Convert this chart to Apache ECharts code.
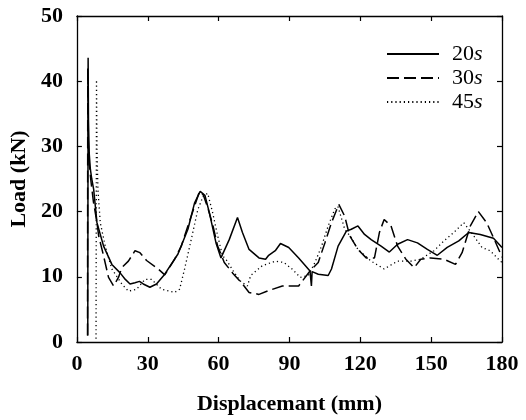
<!DOCTYPE html>
<html>
<head>
<meta charset="utf-8">
<script src="https://cdn.jsdelivr.net/npm/echarts@6/dist/echarts.min.js"></script>
<style>
html,body{margin:0;padding:0;background:#fff;}
#chart{width:526px;height:420px;}
</style>
</head>
<body>
<div id="chart"></div>
<script>
// ---- data (displacement mm, load kN) ----
var seriesNames = ['20s', '30s', '45s'];
var xTicks = [0, 30, 60, 90, 120, 150, 180];
var yTicks = [0, 10, 20, 30, 40, 50];

var disp20 = [4.6,4.75,4.9,5.2,5.7,6.3,7.1,8.5,11.3,14.8,18.3,20.5,22.5,24.6,26.5,28.1,30.9,33.7,37.2,42.8,47,49.8,52.2,54.2,56.1,58.9,61,64.5,68,70.1,72.9,77.1,79.9,81.2,84,86.2,89.7,93.9,98.7,99.3,99.6,100.2,102.2,106.4,107.8,110.6,114.1,116.2,119,121.8,124.6,128.8,132.3,135.8,140,144.2,148.4,152.6,156.8,161.7,165.9,170.8,176.4,180];
var load20 = [1,43.6,34,29,26.5,25,23.4,18.3,14.7,11.9,10.6,9.6,8.9,9.1,9.3,8.9,8.4,8.9,10.4,13.5,17.3,21.3,23.1,22.5,19.8,15.2,12.9,15.7,19.1,16.8,14.2,12.9,12.7,13.3,14.0,15.1,14.5,12.9,10.9,8.6,10.8,10.6,10.4,10.2,11.2,14.7,17.0,17.3,17.8,16.5,15.7,14.7,13.8,15.0,15.7,15.2,14.2,13.3,14.5,15.5,16.8,16.5,15.9,14.5];

var disp30 = [4.5,4.6,4.8,5.3,6.0,7.0,8.5,9.2,11.3,13.4,15.5,17.6,19,21.8,24.6,26.7,29.5,34.4,37.2,41.4,44.2,47,49.8,51.9,53.5,55.5,57.5,59.6,62.4,65.9,70.1,72.9,77.1,81.3,87,93.9,96,98.7,102.2,105,107.8,110.9,113.4,115.5,119,122.5,126,128.1,130.1,133,135.8,139.3,142.8,145.6,149.8,155.4,160.3,163.1,166.6,170,173.5,176.4,179.2,180];
var load30 = [1,42,31,27,24.5,21.5,18.3,16.3,13.2,9.9,8.6,9.9,11.4,12.4,14.0,13.7,12.5,11.2,10.3,12.7,14.7,17.8,20.8,23.1,22.6,20.5,18.0,14.7,12.2,10.6,8.9,7.6,7.3,7.9,8.6,8.6,9.6,10.9,12.2,15.2,18.3,21.1,19.3,16.3,14.2,12.9,12.9,16.8,18.8,17.8,14.7,12.7,11.4,12.7,12.9,12.7,11.9,13.7,17.8,20.0,18.3,16.0,13.7,13.0];

var disp45 = [8.1,8.3,8.5,8.9,9.9,12,14.8,19,21.8,25.3,28.8,31.6,35.8,41.4,43.5,45.6,48.4,51.2,53.5,55.4,57.5,59.6,61.7,63.1,66,69,72.2,73.6,78.5,84,87.6,91.1,94.6,98,100.8,103.6,106.4,109.2,110.5,113.4,116.2,119,124.6,130.1,135.8,141.4,145.6,151.2,155.4,159.6,163.8,168,171.5,175,178.5,180];
var load45 = [0.5,40.2,30,23.4,18.3,14.7,11.2,8.9,7.8,8.1,9.6,9.6,8.1,7.6,8.1,11.2,15.7,20.3,22.4,22.8,19.8,16.3,13.2,12.7,11.0,9.4,8.6,10.2,11.7,12.4,12.2,11.2,9.9,10.2,12.2,14.7,17.8,20.4,20.8,17.3,16.0,14.2,12.4,11.2,12.4,12.4,12.7,14.0,15.5,16.8,18.3,16.3,14.5,14.0,12.7,12.2];

function zip(xs, ys){ return xs.map(function(x,i){ return [x, ys[i]]; }); }

var FONT = '"Liberation Serif", "DejaVu Serif", serif';
var axisLineStyle = {color:'#000', width:1.3};
var tickStyle = {show:true, inside:true, length:5, lineStyle:{color:'#000', width:1.2}};

function xAxis(pos, labels){
  var a = {
    type:'value', min:xTicks[0], max:xTicks[xTicks.length-1], interval:30, position:pos,
    axisLine:{show:true, onZero:false, lineStyle:axisLineStyle},
    axisTick:tickStyle,
    splitLine:{show:false},
    axisLabel:{show:labels, fontFamily:FONT, fontWeight:'bold', fontSize:22, color:'#000', margin:11}
  };
  if (labels){
    a.name = 'Displacemant (mm)';
    a.nameLocation = 'middle';
    a.nameGap = 51;
    a.nameTextStyle = {fontFamily:FONT, fontWeight:'bold', fontSize:22, color:'#000'};
  }
  return a;
}
function yAxis(pos, labels){
  var a = {
    type:'value', min:yTicks[0], max:yTicks[yTicks.length-1], interval:10, position:pos,
    axisLine:{show:true, onZero:false, lineStyle:axisLineStyle},
    axisTick:tickStyle,
    splitLine:{show:false},
    axisLabel:{show:labels, fontFamily:FONT, fontWeight:'bold', fontSize:22, color:'#000', margin:14}
  };
  if (labels){
    a.name = 'Load (kN)';
    a.nameLocation = 'middle';
    a.nameGap = 38;
    a.nameTextStyle = {fontFamily:FONT, fontWeight:'bold', fontSize:22, color:'#000'};
  }
  return a;
}

var styles = [
  {type:'solid', width:1.5},
  {type:[12,5], width:1.5},
  {type:[1.2,3], width:1.3}
];
var datas = [zip(disp20,load20), zip(disp30,load30), zip(disp45,load45)];

var chart = echarts.init(document.getElementById('chart'), null, {renderer:'canvas'});
chart.setOption({
  animation:false,
  backgroundColor:'#fff',
  grid:{left:73, right:24, top:16, bottom:77},
  xAxis:[xAxis('bottom', true), xAxis('top', false)],
  yAxis:[yAxis('left', true), yAxis('right', false)],
  legend:{
    orient:'vertical', left:386, top:43, padding:0, itemGap:2,
    itemWidth:52, itemHeight:14,
    itemStyle:{opacity:0, borderWidth:0},
    data:seriesNames,
    formatter:function(n){ return n.slice(0,-1) + '{i|' + n.slice(-1) + '}'; },
    textStyle:{fontFamily:FONT, fontSize:22, color:'#000', padding:[0,0,0,8],
      rich:{i:{fontFamily:FONT, fontSize:22, fontStyle:'italic', color:'#000'}}}
  },
  series: seriesNames.map(function(n,i){
    return {
      name:n, type:'line', data:datas[i], xAxisIndex:0, yAxisIndex:0,
      symbol:'none', showSymbol:false, smooth:false,
      lineStyle:{color:'#000', width:styles[i].width, type:styles[i].type},
      itemStyle:{color:'#000'}
    };
  })
});
</script>
</body>
</html>
